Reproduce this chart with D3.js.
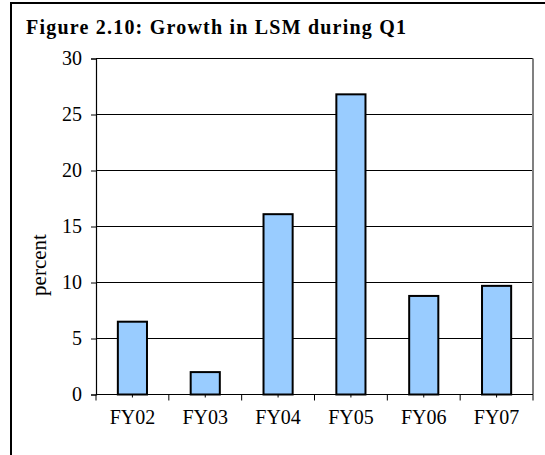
<!DOCTYPE html>
<html>
<head>
<meta charset="utf-8">
<script src="https://cdn.jsdelivr.net/npm/d3@7"></script>
<style>
  body { margin: 0; background: #fff; }
  svg { display: block; }
  text { font-family: "Liberation Serif", "Times New Roman", serif; fill: #000; }
</style>
</head>
<body>
<svg id="chart" width="545" height="455"></svg>
<script>
// data
const categories = ["FY02", "FY03", "FY04", "FY05", "FY06", "FY07"];
const growth = [6.5, 2.0, 16.1, 26.8, 8.8, 9.7];
const yTicks = [0, 5, 10, 15, 20, 25, 30];

const svg = d3.select("#chart");
const plot = { left: 96, right: 533, top: 58.5, bottom: 394.5 };

// outer frame (cut off at right and bottom)
svg.append("rect")
    .attr("x", 11).attr("y", 3)
    .attr("width", 560).attr("height", 480)
    .attr("fill", "none")
    .attr("stroke", "#000")
    .attr("stroke-width", 2);

svg.append("text")
    .attr("x", 26).attr("y", 34)
    .attr("font-size", 20)
    .attr("font-weight", "bold")
    .attr("textLength", 380)
    .attr("lengthAdjust", "spacing")
    .text("Figure 2.10: Growth in LSM during Q1");

const x = d3.scaleBand()
    .domain(categories)
    .range([plot.left, plot.right])
    .paddingInner(0.6)
    .paddingOuter(0.3);

const y = d3.scaleLinear()
    .domain([0, 30])
    .range([plot.bottom, plot.top]);

// gridlines
svg.append("g")
    .selectAll("line")
    .data(yTicks.filter(d => d > 0))
    .join("line")
    .attr("x1", plot.left).attr("x2", plot.right)
    .attr("y1", d => y(d)).attr("y2", d => y(d))
    .attr("stroke", "#000")
    .attr("stroke-width", 1);

// right border of plot area
svg.append("line")
    .attr("x1", plot.right).attr("x2", plot.right)
    .attr("y1", plot.top).attr("y2", plot.bottom)
    .attr("stroke", "#808080")
    .attr("stroke-width", 2);

// bars
svg.append("g")
    .selectAll("rect")
    .data(growth)
    .join("rect")
    .attr("x", (d, i) => x(categories[i]))
    .attr("y", d => y(d))
    .attr("width", x.bandwidth())
    .attr("height", d => y(0) - y(d))
    .attr("fill", "#99ccff")
    .attr("stroke", "#000")
    .attr("stroke-width", 2);

// y axis
const yAxis = svg.append("g")
    .attr("transform", `translate(${plot.left},0)`)
    .call(d3.axisLeft(y).tickValues(yTicks).tickSize(5).tickPadding(9));
yAxis.select(".domain").attr("stroke", "#000").attr("stroke-width", 1.2);
yAxis.selectAll(".tick line").attr("stroke", "#000");
yAxis.selectAll("text")
    .attr("font-size", 20)
    .attr("font-family", "Liberation Serif");

// x axis: long ticks at boundaries, short ticks at bar centres
const step = x.step();
const bounds = d3.range(categories.length + 1).map(i => plot.left + i * step);
const xAxis = svg.append("g");
xAxis.append("line")
    .attr("x1", plot.left).attr("x2", plot.right)
    .attr("y1", plot.bottom).attr("y2", plot.bottom)
    .attr("stroke", "#000").attr("stroke-width", 1.2);
xAxis.selectAll(".bound")
    .data(bounds)
    .join("line")
    .attr("class", "bound")
    .attr("x1", d => d).attr("x2", d => d)
    .attr("y1", plot.bottom).attr("y2", plot.bottom + 6)
    .attr("stroke", "#000");
xAxis.selectAll(".mid")
    .data(categories)
    .join("line")
    .attr("class", "mid")
    .attr("x1", d => x(d) + x.bandwidth() / 2).attr("x2", d => x(d) + x.bandwidth() / 2)
    .attr("y1", plot.bottom).attr("y2", plot.bottom + 3)
    .attr("stroke", "#000");
xAxis.selectAll("text")
    .data(categories)
    .join("text")
    .attr("x", d => x(d) + x.bandwidth() / 2)
    .attr("y", 424)
    .attr("text-anchor", "middle")
    .attr("font-size", 20)
    .text(d => d);

// y axis title
svg.append("text")
    .attr("transform", `translate(46,265) rotate(-90)`)
    .attr("text-anchor", "middle")
    .attr("font-size", 21)
    .text("percent");
</script>
</body>
</html>
